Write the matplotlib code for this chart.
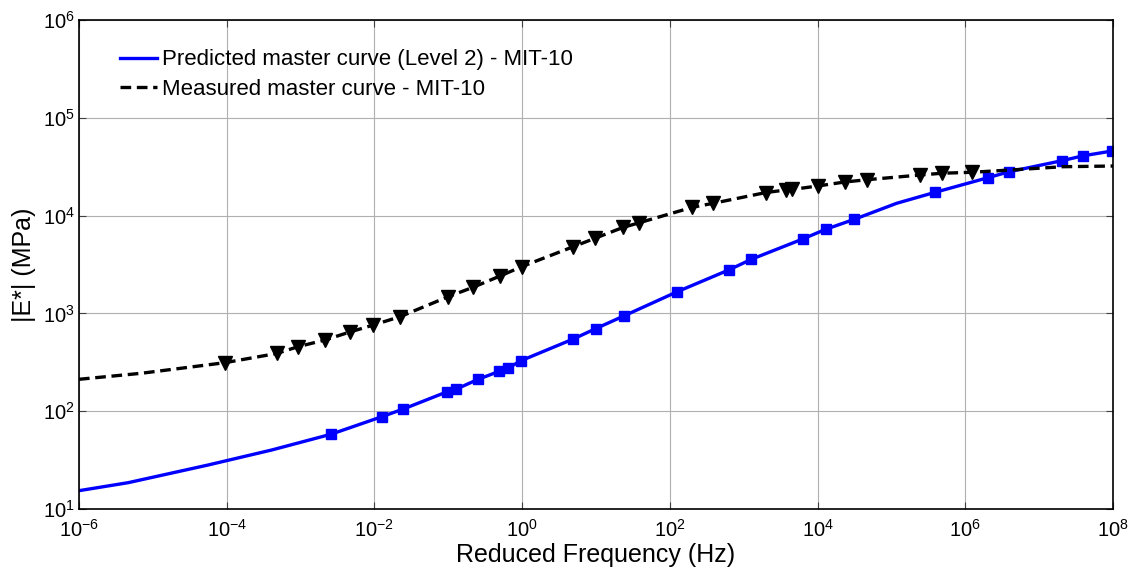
import matplotlib
matplotlib.use('Agg')
import matplotlib.pyplot as plt
import numpy as np
from matplotlib.ticker import NullLocator

plt.rcParams['font.family'] = ['Liberation Sans', 'DejaVu Sans']
plt.rcParams['mathtext.fontset'] = 'custom'
plt.rcParams['mathtext.rm'] = 'Liberation Sans'
plt.rcParams['mathtext.it'] = 'Liberation Sans:italic'
plt.rcParams['axes.unicode_minus'] = False

# predicted master curve (Level 2): log10 frequency / log10 |E*| at curve vertices
pred_log_f = [-6.0, -5.333, -4.249, -3.391, -2.588, -1.898, -1.609, -1.014, -0.896,
              -0.602, -0.309, -0.188, -0.016, 0.692, 0.996, 1.383, 2.092, 2.797,
              3.103, 3.806, 4.110, 4.497, 5.071, 5.590, 6.303, 6.591, 7.305, 7.597, 7.99]
pred_log_E = [1.187, 1.269, 1.450, 1.603, 1.764, 1.944, 2.022, 2.199, 2.224,
              2.324, 2.408, 2.442, 2.516, 2.738, 2.844, 2.976, 3.219, 3.444,
              3.553, 3.763, 3.860, 3.962, 4.126, 4.238, 4.387, 4.448, 4.561, 4.612, 4.661]
pred_marks = [4, 5, 6, 7, 8, 9, 10, 11, 12, 13, 14, 15, 16, 17,
              18, 19, 20, 21, 23, 24, 25, 26, 27, 28]

# measured master curve
meas_log_f = [-6.0, -5.151, -4.023, -3.323, -3.031, -2.669, -2.331, -2.015, -1.654,
              -1.0, -0.661, -0.300, -0.006, 0.692, 0.986, 1.369, 1.586, 2.304,
              2.588, 3.301, 3.572, 3.653, 4.005, 4.371, 4.669, 5.386, 5.680, 6.086,
              6.605, 7.322, 8.0]
meas_log_E = [2.326, 2.388, 2.496, 2.590, 2.660, 2.728, 2.810, 2.881, 2.966,
              3.171, 3.268, 3.382, 3.478, 3.682, 3.768, 3.880, 3.927, 4.085,
              4.126, 4.236, 4.262, 4.267, 4.303, 4.344, 4.367, 4.415, 4.433, 4.443,
              4.466, 4.500, 4.507]
meas_marks = list(range(2, 28))

x_tick_exp = [-6, -4, -2, 0, 2, 4, 6, 8]
y_tick_exp = [1, 2, 3, 4, 5, 6]

pred_f = 10 ** np.array(pred_log_f)
pred_E = 10 ** np.array(pred_log_E)
meas_f = 10 ** np.array(meas_log_f)
meas_E = 10 ** np.array(meas_log_E)

fig = plt.figure(figsize=(11.36, 5.77), dpi=100)
ax = fig.add_axes([0.0695, 0.1179, 0.9103, 0.8474])

ax.plot(pred_f, pred_E, '-', color='#0000ff', lw=2.4, marker='s', ms=7.5,
        markevery=pred_marks, label='Predicted master curve (Level 2) - MIT-10')
ax.plot(meas_f, meas_E, '--', color='black', lw=2.4, marker='v', ms=10.5,
        markevery=meas_marks, dashes=(3.2, 1.7),
        label='Measured master curve - MIT-10')

ax.set_xscale('log')
ax.set_yscale('log')
ax.set_xlim(1e-6, 1e8)
ax.set_ylim(1e1, 1e6)
ax.set_xticks([10.0 ** e for e in x_tick_exp])
ax.set_yticks([10.0 ** e for e in y_tick_exp])
ax.xaxis.set_minor_locator(NullLocator())
ax.yaxis.set_minor_locator(NullLocator())
ax.grid(True, color='#b0b0b0', lw=0.8)
ax.tick_params(direction='in', top=True, right=True, length=5, width=0.8,
               labelsize=14.5, color='#404040')
ax.tick_params(axis='x', pad=7)
ax.tick_params(axis='y', pad=3)
for s in ax.spines.values():
    s.set_linewidth(1.2)

ax.set_xlabel('Reduced Frequency (Hz)', fontsize=18, labelpad=2)
ax.set_ylabel('|E*| (MPa)', fontsize=18, labelpad=5)

leg = ax.legend(loc='upper left', bbox_to_anchor=(0.04, 0.94), frameon=False,
                fontsize=16, handlelength=1.65, handletextpad=0.22,
                labelspacing=0.4, borderpad=0, borderaxespad=0)
for h in leg.legend_handles:
    h.set_marker('')

fig.savefig('out.png', dpi=100)
